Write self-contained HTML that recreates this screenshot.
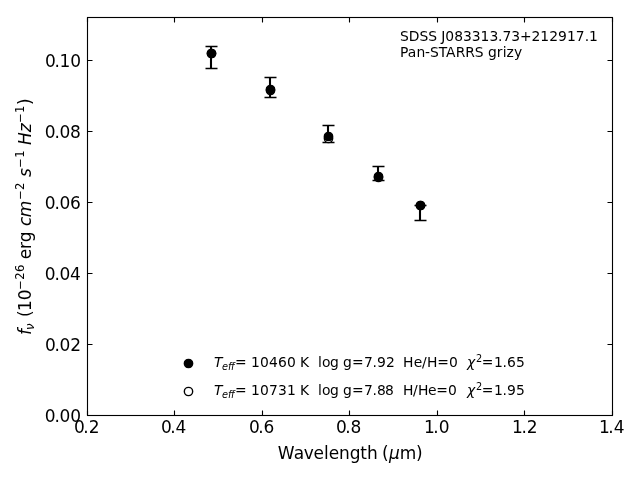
<!DOCTYPE html>
<html lang="en">
<head>
<meta charset="utf-8">
<title>SDSS J083313.73+212917.1 Pan-STARRS grizy</title>
<style>
html,body{margin:0;padding:0;background:#fff;width:640px;height:480px;overflow:hidden}
svg{display:block;will-change:transform}
text{font-family:"DejaVu Sans","Liberation Sans",sans-serif;fill:#000;white-space:pre}
</style>
</head>
<body>
<svg width="640" height="480" viewBox="0 0 640 480">
<rect width="640" height="480" fill="#fff"/>
<g fill="none" stroke="#000" stroke-width="1.11">
<path d="M87.5 415.5v-5M87.5 17.5v5M174.5 415.5v-5M174.5 17.5v5M262.5 415.5v-5M262.5 17.5v5M349.5 415.5v-5M349.5 17.5v5M437.5 415.5v-5M437.5 17.5v5M524.5 415.5v-5M524.5 17.5v5M612.5 415.5v-5M612.5 17.5v5M87.5 415.5h5M612.5 415.5h-5M87.5 344.5h5M612.5 344.5h-5M87.5 273.5h5M612.5 273.5h-5M87.5 202.5h5M612.5 202.5h-5M87.5 131.5h5M612.5 131.5h-5M87.5 60.5h5M612.5 60.5h-5"/>
<rect x="87.5" y="17.5" width="525" height="398" stroke-linejoin="miter"/>
</g>
<g fill="none" stroke="#000">
<path stroke-width="2.08" d="M211 46.5V68.5M270 77.5V97.5M328 125.5V142.5M378 166.5V180.5M420 205.5V220.5"/>
<path stroke-width="1.33" d="M205.5 46.5h12M205.5 68.5h12M264.5 77.5h12M264.5 97.5h12M322.5 125.5h12M322.5 142.5h12M372.5 166.5h12M372.5 180.5h12M414.5 205.5h12M414.5 220.5h12"/>
</g>
<g stroke="#000" stroke-width="1.39">
<circle cx="211.5" cy="53.5" r="4.17" fill="#fff"/>
<circle cx="270.5" cy="90.5" r="4.17" fill="#fff"/>
<circle cx="328.5" cy="138.5" r="4.17" fill="#fff"/>
<circle cx="378.5" cy="177.5" r="4.17" fill="#fff"/>
<circle cx="420.5" cy="205.5" r="4.17" fill="#fff"/>
<circle cx="211.5" cy="53.5" r="4.17" fill="#000"/>
<circle cx="270.5" cy="89.5" r="4.17" fill="#000"/>
<circle cx="328.5" cy="136.5" r="4.17" fill="#000"/>
<circle cx="378.5" cy="176.5" r="4.17" fill="#000"/>
<circle cx="420.5" cy="205.5" r="4.17" fill="#000"/>
<circle cx="188.5" cy="363.5" r="4.17" fill="#000"/>
<circle cx="188.5" cy="391.5" r="4.17" fill="#fff"/>
</g>
<text x="74.03 83.34 88.75" y="432.53" font-size="17">0.2</text>
<text x="161.03 170.34 175.5" y="432.53" font-size="17">0.4</text>
<text x="249.03 258.34 263.5" y="432.53" font-size="17">0.6</text>
<text x="336.03 345.34 350.5" y="432.53" font-size="17">0.8</text>
<text x="424.03 433.34 438.75" y="432.53" font-size="17">1.0</text>
<text x="512.03 521.59 526.75" y="432.53" font-size="17">1.2</text>
<text x="599.03 608.34 613.75" y="432.53" font-size="17">1.4</text>
<text x="44.83 54.39 59.55 70.36" y="421.96" font-size="17">0.00</text>
<text x="45.08 54.39 59.55 70.36" y="350.89" font-size="17">0.02</text>
<text x="44.83 54.39 59.55 70.11" y="279.81" font-size="17">0.04</text>
<text x="44.83 54.39 59.55 70.11" y="208.74" font-size="17">0.06</text>
<text x="44.83 54.39 59.55 70.11" y="137.67" font-size="17">0.08</text>
<text x="45.08 54.39 59.55 70.36" y="66.6" font-size="17">0.10</text>
<text x="399.97 408.77 419.45 428.27 437.06 441.24 445.31 454.14 462.97 471.8 480.38 489.45 498.03 502.45 511.28 520.11 531.49 540.31 549.13 557.95 567.03 575.86 584.69 589.11" y="40.5" font-size="13.89">SDSS J083313.73+212917.1</text>
<text x="399.97 407.7 416.45 425 430 438.81 445.97 455.7 465.35 474.74 483.55 487.95 496.77 502.72 506.56 514.11" y="56.55" font-size="13.89">Pan-STARRS grizy</text>
<text transform="translate(276.72 459.21)" xml:space="preserve"><tspan x="1 16.97 27.12 36.69 47.16 52.12 62.33 73.11 83.41 90.31 101.09 105.25" y="-0.22" font-size="17">Wavelength (</tspan><tspan x="112.24" y="-0.22" font-size="17" font-style="oblique">μ</tspan><tspan x="123.09 139.39" y="-0.22" font-size="17">m)</tspan></text>
<text transform="translate(31.1 334.58) rotate(-90)" xml:space="preserve"><tspan x="-0.5" y="-0.24" font-size="17" font-style="oblique">f</tspan><tspan x="4.62" y="3.13" font-size="11.67" font-style="oblique">ν</tspan><tspan x="11.84 17.48 23.62 34.43" y="-0.24" font-size="17"> (10</tspan><tspan x="44.76 54.78 62.68" y="-6.62" font-size="11.67">−26</tspan><tspan x="69.83 75.22 85.69 92.38 103.17" y="-0.24" font-size="17"> erg </tspan><tspan x="108.62 117.46" y="-0.24" font-size="17" font-style="oblique">cm</tspan><tspan x="134.79 144.56" y="-6.62" font-size="11.67">−2</tspan><tspan x="153.19" y="-0.24" font-size="17"> </tspan><tspan x="157.49" y="-0.24" font-size="17" font-style="oblique">s</tspan><tspan x="166.95 176.72" y="-6.62" font-size="11.67">−1</tspan><tspan x="185.6" y="-0.24" font-size="17"> </tspan><tspan x="189.65 202.43" y="-0.24" font-size="17" font-style="oblique">Hz</tspan><tspan x="211.93 221.7" y="-6.62" font-size="11.67">−1</tspan><tspan x="229.58" y="-0.24" font-size="17">)</tspan></text>
<text transform="translate(214.8 367.24)" xml:space="preserve"><tspan x="-0.75" y="-0.56" font-size="13.89" font-style="oblique">T</tspan><tspan x="7.23 13.2 16.21" y="2.7" font-size="9.72" font-style="oblique">eff</tspan><tspan x="20.19 31.82 36.22 45.3 54.13 63.21 72.28 81.11 85.27 94.36 98.78 103.19 107.3 115.28 124.08 128.25 137.3 149.17 157.75 162.17 171.25 180.08 184.49 188.14 198.83 207.11 212.28 222.47 234.1" y="-0.56" font-size="13.89">= 10460 K  log g=7.92  He/H=0</tspan></text>
<text transform="translate(467.5 368.24)" xml:space="preserve"><tspan x="-0.5" y="-1.36" font-size="13.89" font-style="oblique">χ</tspan><tspan x="8.59" y="-6.67" font-size="9.72">2</tspan><tspan x="14.36 26.53 35.11 39.52 48.6" y="-1.36" font-size="13.89">=1.65</tspan></text>
<text transform="translate(214.8 395.1)" xml:space="preserve"><tspan x="-0.75" y="-0.56" font-size="13.89" font-style="oblique">T</tspan><tspan x="7.23 13.2 16.21" y="2.7" font-size="9.72" font-style="oblique">eff</tspan><tspan x="20.19 31.82 36.22 45.3 54.13 63.21 72.28 81.11 85.27 94.36 98.78 103.19 107.3 115.28 124.08 128.25 137.3 149.17 157.75 162.17 170.25 179.08 183.49 188.14 198.08 203.25 213.19 221.47 233.1" y="-0.56" font-size="13.89">= 10731 K  log g=7.88  H/He=0</tspan></text>
<text transform="translate(467.5 396.1)" xml:space="preserve"><tspan x="-0.5" y="-1.36" font-size="13.89" font-style="oblique">χ</tspan><tspan x="8.59" y="-5.67" font-size="9.72">2</tspan><tspan x="14.36 26.53 35.11 39.52 48.6" y="-1.36" font-size="13.89">=1.95</tspan></text>
</svg>
</body>
</html>
